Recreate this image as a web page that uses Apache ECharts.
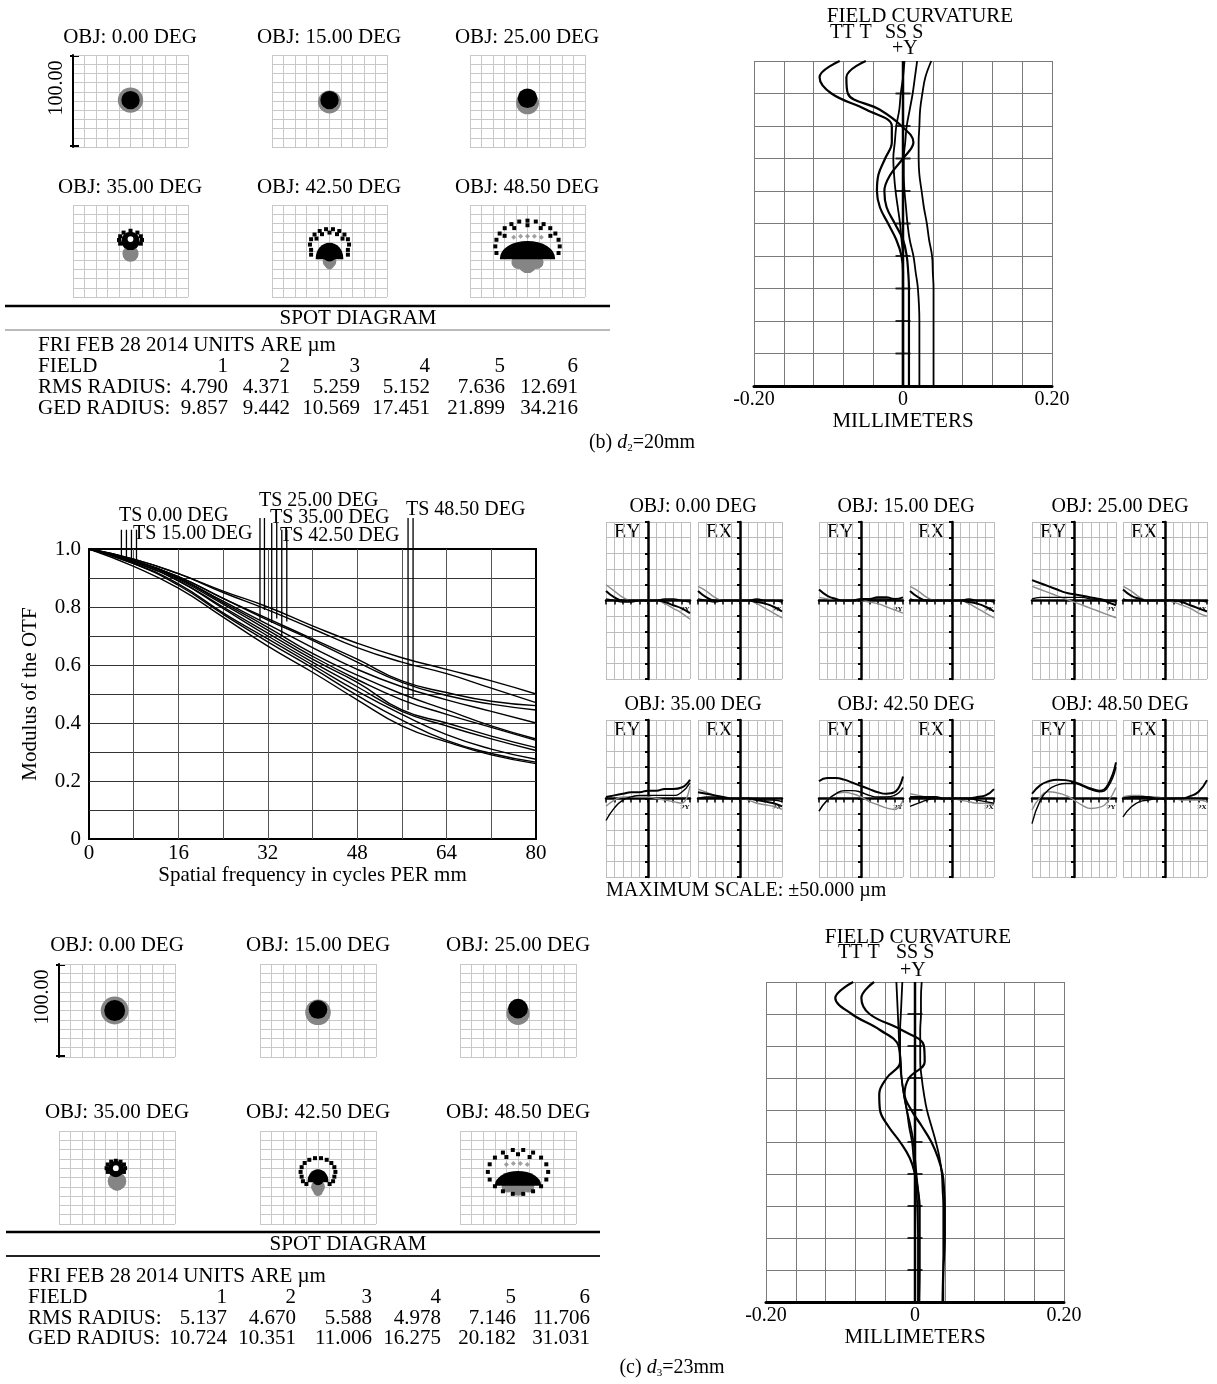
<!DOCTYPE html>
<html>
<head>
<meta charset="utf-8">
<script src="https://cdn.jsdelivr.net/npm/echarts@6/dist/echarts.min.js"></script>
<style>
  html, body { margin: 0; padding: 0; background: #fff; }
  #main { width: 1217px; height: 1384px; }
</style>
</head>
<body>
<div id="main"></div>
<script>
var FONT = 'Liberation Serif';

// ---------- data ----------
var fieldLabels = ['0.00', '15.00', '25.00', '35.00', '42.50', '48.50'];
var fieldNo = [1, 2, 3, 4, 5, 6];
var rmsB = [4.790, 4.371, 5.259, 5.152, 7.636, 12.691];
var gedB = [9.857, 9.442, 10.569, 17.451, 21.899, 34.216];
var rmsC = [5.137, 4.670, 5.588, 4.978, 7.146, 11.706];
var gedC = [10.724, 10.351, 11.006, 16.275, 20.182, 31.031];

// field curvature: relative field (top = 1) vs focus shift in mm
var fieldFrac = [1, .95, .9, .85, .8, .75, .7, .65, .6, .55, .5, .45, .4, .35, .3, .2, .1, 0];
var fcB_TA = [-0.085, -0.112, -0.096, -0.049, -0.015, -0.015, -0.024, -0.033, -0.035, -0.031, -0.020, -0.009, -0.002, 0, 0, 0, 0, 0];
var fcB_TB = [-0.050, -0.076, -0.074, -0.031, -0.002, 0.014, 0.000, -0.017, -0.025, -0.022, -0.011, 0.000, 0.005, 0.007, 0.008, 0.008, 0.008, 0.008];
var fcB_SA = [0.002, 0, -0.003, -0.005, -0.009, -0.011, -0.013, -0.012, -0.010, -0.007, -0.004, -0.002, 0, 0, 0, 0, 0, 0];
var fcB_SB = [0.019, 0.016, 0.013, 0.009, 0.005, 0.003, 0.001, 0.001, 0.002, 0.004, 0.006, 0.009, 0.014, 0.017, 0.020, 0.022, 0.022, 0.022];
var fcB_SC = [0.038, 0.030, 0.026, 0.023, 0.022, 0.021, 0.021, 0.022, 0.025, 0.028, 0.032, 0.035, 0.039, 0.040, 0.041, 0.041, 0.041, 0.041];
var fcC_TA = [-0.083, -0.107, -0.085, -0.047, -0.022, -0.020, -0.038, -0.048, -0.047, -0.036, -0.020, -0.007, 0, 0.004, 0.006, 0.006, 0.006, 0.005];
var fcC_TB = [-0.055, -0.072, -0.061, -0.018, 0.012, 0.013, -0.008, -0.014, -0.005, 0.009, 0.022, 0.031, 0.037, 0.039, 0.040, 0.040, 0.038, 0.037];
var fcC_SA = [-0.025, -0.024, -0.023, -0.022, -0.021, -0.019, -0.018, -0.015, -0.011, -0.008, -0.004, -0.002, 0, 0.002, 0.003, 0.004, 0.004, 0.004];
var fcC_SB = [-0.017, -0.018, -0.019, -0.020, -0.020, -0.020, -0.018, -0.015, -0.011, -0.006, -0.002, 0, 0.002, 0.004, 0.006, 0.006, 0.006, 0.006];
var fcC_SC = [0.009, 0.008, 0.008, 0.007, 0.007, 0.007, 0.009, 0.012, 0.016, 0.022, 0.028, 0.033, 0.036, 0.037, 0.038, 0.038, 0.038, 0.038];
var fcTicks = [0.1, 0.2, 0.3, 0.4, 0.5, 0.6, 0.7, 0.8, 0.9];

// MTF curves
var mtfFreq = [0, 8, 16, 24, 32, 40, 48, 56, 64, 72, 80];
var mtf01 = [1, 0.965, 0.915, 0.855, 0.800, 0.735, 0.675, 0.625, 0.585, 0.545, 0.500];
var mtf02 = [1, 0.965, 0.915, 0.850, 0.790, 0.725, 0.660, 0.610, 0.570, 0.520, 0.470];
var mtf03 = [1, 0.960, 0.905, 0.830, 0.760, 0.690, 0.620, 0.545, 0.505, 0.475, 0.460];
var mtf04 = [1, 0.960, 0.905, 0.830, 0.755, 0.685, 0.610, 0.540, 0.495, 0.465, 0.445];
var mtf05 = [1, 0.960, 0.900, 0.820, 0.740, 0.660, 0.585, 0.525, 0.480, 0.440, 0.400];
var mtf06 = [1, 0.960, 0.900, 0.815, 0.730, 0.640, 0.565, 0.500, 0.445, 0.390, 0.345];
var mtf07 = [1, 0.960, 0.895, 0.810, 0.720, 0.630, 0.550, 0.480, 0.430, 0.385, 0.340];
var mtf08 = [1, 0.955, 0.890, 0.800, 0.710, 0.620, 0.540, 0.445, 0.400, 0.355, 0.315];
var mtf09 = [1, 0.955, 0.890, 0.795, 0.700, 0.610, 0.525, 0.440, 0.390, 0.345, 0.305];
var mtf10 = [1, 0.950, 0.880, 0.780, 0.690, 0.600, 0.510, 0.430, 0.360, 0.310, 0.275];
var mtf11 = [1, 0.950, 0.875, 0.775, 0.680, 0.590, 0.495, 0.410, 0.340, 0.295, 0.265];
var mtf12 = [1, 0.940, 0.865, 0.765, 0.665, 0.575, 0.480, 0.390, 0.335, 0.290, 0.260];
var mtfCurves = [mtf01, mtf02, mtf03, mtf04, mtf05, mtf06, mtf07, mtf08, mtf09, mtf10, mtf11, mtf12];

// TS label marker lines
var tsFreq = [5.8, 6.7, 7.6, 8.5, 30.6, 31.4, 32.7, 33.6, 34.5, 35.4, 57.1, 58.0];
var tsTop = [1.066, 1.066, 1.066, 1.066, 1.107, 1.107, 1.09, 1.09, 1.066, 1.066, 1.107, 1.107];
var tsBottom = [0.975, 0.972, 0.968, 0.962, 0.755, 0.79, 0.745, 0.76, 0.70, 0.75, 0.445, 0.49];
var tsLabels = ['TS 0.00 DEG', 'TS 15.00 DEG', 'TS 25.00 DEG', 'TS 35.00 DEG', 'TS 42.50 DEG', 'TS 48.50 DEG'];

// ray fan: pupil coordinate vs aberration (um), k1/k2 black, g gray
var pupil = [-1, -0.8, -0.6, -0.4, -0.2, 0, 0.2, 0.4, 0.6, 0.8, 1];
var fanEY = [
  { k1: [6, 2, 0, 0, 0, 0, 0, -1, -3, -5, -8], k2: [1, 0, -1, -1, 0, 0, 0, 1, 1, 0, -1], g: [10, 6, 2, 0, 0, 0, 0, -2, -5, -8, -12] },
  { k1: [7, 3, 1, 0, 0, 1, 1, 2, 2, 1, 2], k2: [0, 0, 0, 0, 0, 0, 1, 1, 1, 0, 0], g: [2, 1, 0, 0, 0, 0, -1, -2, -4, -6, -8] },
  { k1: [13, 11, 9, 7, 5, 4, 3, 2, 1, -1, -3], k2: [1, 2, 2, 2, 2, 2, 2, 1, 1, 0, -1], g: [9, 7, 5, 3, 1, -1, -3, -5, -7, -9, -11] },
  { k1: [1, 2, 3, 4, 4, 5, 5, 6, 6, 7, 12], k2: [-14, -6, -1, 1, 2, 2, 2, 2, 2, 4, 10], g: [-5, -1, 1, 1, 1, 1, 0, -1, -2, -3, 8] },
  { k1: [11, 13, 13, 12, 10, 8, 6, 4, 3, 4, 14], k2: [-8, -1, 3, 5, 5, 4, 2, 1, 1, 2, 7], g: [-8, -1, 3, 4, 3, 1, -2, -4, -6, -7, -1] },
  { k1: [3, 8.5, 11, 12, 11.7, 10.6, 8.5, 6.4, 5, 8.5, 23], k2: [-16, -1, 5.7, 8.5, 9.6, 9.6, 7.9, 5.7, 4.3, 7, 20], g: [-7.4, 1, 4.3, 3.6, 2, -1, -4.3, -6.4, -5.7, -2, 7] }
];
var fanEX = [
  { k1: [6, 2, 0, 0, 0, 0, 0, -1, -2, -4, -7], k2: [1, 0, -1, 0, 0, 0, 0, 1, 0, 0, -1], g: [9, 6, 2, 0, 0, 0, 0, -2, -5, -8, -11] },
  { k1: [6, 2, 0, 0, 0, 0, 0, -1, -2, -4, -7], k2: [1, 0, 0, 0, 0, 0, 0, 1, 0, 0, -1], g: [9, 6, 2, 0, 0, 0, 0, -2, -5, -8, -11] },
  { k1: [7, 3, 1, 0, 0, 0, 0, -1, -3, -5, -7], k2: [1, 0, 0, 0, 0, 0, 0, 0, 0, 0, -1], g: [9, 6, 2, 0, 0, 0, -1, -3, -5, -8, -10] },
  { k1: [4, 3, 2, 1, 0, 0, 0, -1, -2, -3, -5], k2: [0, 1, 1, 0, 0, 0, 0, 0, -1, -1, -2], g: [6, 4, 2, 1, 0, 0, -1, -3, -4, -5, -7] },
  { k1: [1, 1, 1, 1, 0, 0, 0, 0, 1, 2, 6], k2: [-5, -3, -1, 0, 0, 0, 0, 0, -1, -2, -3], g: [3, 2, 1, 1, 0, 0, -1, -2, -3, -3, -4] },
  { k1: [0, 1, 1, 1, 0, 0, 0, 0, 1.5, 4.3, 11.7], k2: [-11.7, -5.3, -2, -1, 0, 0, 0, 0, 0, 0, 0], g: [1, 2, 2, 1, 1, 0, 0, -1, -1, -1, -2] }
];

// spot diagrams (um): blobs [x, y, radius], domes [x, y, halfWidth, height], dots [x, y]
var spotB = [
  { gray: [[0, 1, 11]], black: [[0, 1, 8]], dome: [], white: [], dots: [], cross: [] },
  { gray: [[0, -1, 10]], black: [[0, 1, 8]], dome: [], white: [], dots: [], cross: [] },
  { gray: [[0, -2, 10]], black: [[0, 3, 8.5]], dome: [], white: [], dots: [], cross: [] },
  { gray: [[0, -3, 7]], black: [[0, 11, 8]], dome: [], white: [[0, 13, 2.5]],
    dots: [[-10, 12], [-9, 16], [-6, 20], [0, 22], [6, 20], [9, 16], [10, 12], [9, 8], [-9, 8]], cross: [] },
  { gray: [[0, -11, 6], [0, -15, 4]], black: [[0, -4, 6]], dome: [[0, 0, 12, 18]], white: [],
    dots: [[16, 1.2], [17, 7], [16, 12.8], [13, 17.9], [8.5, 21.7], [3, 23.7], [-3, 23.7], [-8.5, 21.7], [-13, 17.9], [-16, 12.8], [-17, 7], [-16, 1.2],
      [11.3, 13.5], [6.5, 18.3], [0, 20], [-6.5, 18.3], [-11.3, 13.5], [16, -4], [-16, -4]], cross: [] },
  { gray: [[0, -14, 8], [-8, -12, 6], [8, -12, 6]], black: [], dome: [[0, 1, 24, 20]], white: [],
    dots: [[27, -2.2], [28, 5], [27, 12.2], [24.2, 19], [19.8, 24.8], [14, 29.2], [7.2, 32], [0, 33], [-7.2, 32], [-14, 29.2], [-19.8, 24.8], [-24.2, 19], [-27, 12.2], [-28, 5], [-27, -2.2],
      [19.9, 16.5], [11.5, 24.9], [0, 28], [-11.5, 24.9], [-19.9, 16.5]],
    cross: [[-12, 15], [-6, 16], [0, 16], [6, 16], [12, 15]] }
];
var spotC = [
  { gray: [[-2, 0, 12]], black: [[-2, 0, 9]], dome: [], white: [], dots: [], cross: [] },
  { gray: [[0, -2, 11]], black: [[0, 1, 8]], dome: [], white: [], dots: [], cross: [] },
  { gray: [[0, -3, 10]], black: [[0, 2, 8.5]], dome: [], white: [], dots: [], cross: [] },
  { gray: [[0, -4, 8], [0, -8, 5]], black: [[-1, 9, 7]], dome: [], white: [[-1, 10, 2.5]],
    dots: [[-9, 10], [-8, 14], [-5, 17], [-1, 18], [3, 17], [6, 14], [7, 10], [6, 6], [-8, 6]], cross: [] },
  { gray: [[0, -10, 6], [0, -15, 4]], black: [[0, -2, 5]], dome: [[0, 2, 9, 14]], white: [],
    dots: [[14.1, 0.9], [15, 6], [14.1, 11.1], [11.5, 15.6], [7.5, 19], [2.6, 20.8], [-2.6, 20.8], [-7.5, 19], [-11.5, 15.6], [-14.1, 11.1], [-15, 6], [-14.1, 0.9],
      [13, -4], [-13, -4], [10, -7], [-10, -7]], cross: [] },
  { gray: [[0, -11, 7], [-9, -10, 5], [9, -10, 5]], black: [], dome: [[0, -1, 20, 16]], white: [],
    dots: [[26, 6], [24.4, 14.2], [19.9, 21.4], [13, 26.8], [4.5, 29.6], [-4.5, 29.6], [-13, 26.8], [-19.9, 21.4], [-24.4, 14.2], [-26, 6],
      [-24.4, -2.2], [-19.9, -9.4], [-13, -14.8], [-4.5, -17.6], [4.5, -17.6], [13, -14.8], [19.9, -9.4], [24.4, -2.2],
      [0, 25], [10, 22], [-10, 22]],
    cross: [[-10, 14], [-4, 15], [2, 15], [8, 14]] }
];

// ---------- builders ----------
var grids = [], xAxes = [], yAxes = [], series = [], graphics = [];
var DOME = 'path://M0,10 A10,10 0 0 1 20,10 L20,10.5 L0,10.5 Z';

function addGrid(g, xa, ya) {
  grids.push(g);
  var i = grids.length - 1;
  xa.gridIndex = i; ya.gridIndex = i;
  xAxes.push(xa); yAxes.push(ya);
  return i;
}

function txt(s, x, y, size, align, extra, rot) {
  graphics.push({
    type: 'text', x: x, y: y, rotation: rot || 0, silent: true,
    style: Object.assign({
      text: s, fill: '#000', fontSize: size, fontFamily: FONT,
      textAlign: align || 'left', align: align || 'left',
      textVerticalAlign: 'middle', verticalAlign: 'middle'
    }, extra || {})
  });
}

function seg(x1, y1, x2, y2, w, c) {
  graphics.push({ type: 'line', silent: true, shape: { x1: x1, y1: y1, x2: x2, y2: y2 }, style: { stroke: c || '#000', lineWidth: w } });
}

function hiddenAxis(min, max, interval, split) {
  return {
    type: 'value', min: min, max: max, interval: interval,
    axisLine: { show: false }, axisTick: { show: false }, axisLabel: { show: false },
    splitLine: split ? { show: true, lineStyle: { color: split, width: 1 } } : { show: false }
  };
}

function spotPanel(left, top, w, h, d, scaleBar) {
  var ya = hiddenAxis(-50, 50, 10, '#c8c8c8');
  if (scaleBar) {
    ya.axisLine = { show: true, onZero: false, lineStyle: { color: '#000', width: 2 } };
    seg(left - 3, top + 1, left + 6, top + 1, 2);
    seg(left - 3, top + h - 1, left + 6, top + h - 1, 2);
    txt('100.00', left - 16, top + 33, 20, 'center', null, Math.PI / 2);
  }
  var gi = addGrid({ left: left, top: top, width: w, height: h }, hiddenAxis(-50, 50, 10, '#c8c8c8'), ya);
  var k = w / 100, kv = h / 100;
  var size = function (v) { return v[2] * 2 * k; };
  series.push({ type: 'scatter', xAxisIndex: gi, yAxisIndex: gi, data: d.gray, symbolSize: size, itemStyle: { color: '#858585', opacity: 1 }, silent: true, z: 3 });
  series.push({ type: 'scatter', xAxisIndex: gi, yAxisIndex: gi, data: d.cross, symbol: 'diamond', symbolSize: 5, itemStyle: { color: '#8a8a8a' }, silent: true, z: 3 });
  series.push({ type: 'scatter', xAxisIndex: gi, yAxisIndex: gi, data: d.black, symbolSize: size, itemStyle: { color: '#000', opacity: 1 }, silent: true, z: 4 });
  series.push({
    type: 'scatter', xAxisIndex: gi, yAxisIndex: gi, data: d.dome, symbol: DOME,
    symbolSize: function (v) { return [v[2] * 2 * k, v[3] * kv]; }, symbolKeepAspect: false,
    itemStyle: { color: '#000', opacity: 1 }, silent: true, z: 4
  });
  series.push({ type: 'scatter', xAxisIndex: gi, yAxisIndex: gi, data: d.white, symbolSize: size, itemStyle: { color: '#fff', opacity: 1 }, silent: true, z: 5 });
  series.push({ type: 'scatter', xAxisIndex: gi, yAxisIndex: gi, data: d.dots, symbol: 'rect', symbolSize: 4, itemStyle: { color: '#000', opacity: 1 }, silent: true, z: 5 });
}

function fcLabel(v) {
  if (Math.abs(v + 0.2) < 1e-6) return '-0.20';
  if (Math.abs(v) < 1e-6) return '0';
  if (Math.abs(v - 0.2) < 1e-6) return '0.20';
  return '';
}

function fcPanel(left, top, w, h, curves) {
  var gi = addGrid({ left: left, top: top, width: w, height: h },
    {
      type: 'value', min: -0.2, max: 0.2, interval: 0.04,
      axisLine: { show: true, onZero: false, lineStyle: { color: '#000', width: 3 } },
      axisTick: { show: false },
      axisLabel: { show: true, formatter: fcLabel, fontFamily: FONT, fontSize: 20, color: '#000', margin: 4, showMinLabel: true, showMaxLabel: true },
      splitLine: { show: true, lineStyle: { color: '#7a7a7a', width: 1 } },
      name: 'MILLIMETERS', nameLocation: 'middle', nameGap: 21,
      nameTextStyle: { fontFamily: FONT, fontSize: 21, color: '#000' }
    },
    hiddenAxis(0, 1, 0.1, '#7a7a7a'));
  curves.forEach(function (c, ci) {
    series.push({
      type: 'line', xAxisIndex: gi, yAxisIndex: gi, smooth: 0.4, symbol: 'none', silent: true,
      data: fieldFrac.map(function (f, i) { return [c[i], f]; }),
      lineStyle: { color: '#000', width: ci < 2 ? 2.2 : 1.8 }, z: 4
    });
  });
  series.push({ type: 'line', xAxisIndex: gi, yAxisIndex: gi, symbol: 'none', silent: true, data: [[0, 0], [0, 1]], lineStyle: { color: '#000', width: 2.5 }, z: 5 });
  series.push({
    type: 'scatter', xAxisIndex: gi, yAxisIndex: gi, silent: true, symbol: 'rect', symbolSize: [15, 2],
    data: fcTicks.map(function (t) { return [0, t]; }), itemStyle: { color: '#000' }, z: 5
  });
}

function fanPanel(left, top, w, h, d, tag) {
  var gi = addGrid({ left: left, top: top, width: w, height: h },
    {
      type: 'value', min: -1, max: 1, interval: 0.2,
      axisLine: { show: true, onZero: true, lineStyle: { color: '#000', width: 2.5 } },
      axisTick: { show: true, length: 4, lineStyle: { color: '#000', width: 1.5 } },
      axisLabel: { show: false },
      splitLine: { show: true, lineStyle: { color: '#bdbdbd', width: 1 } }
    },
    {
      type: 'value', min: -50, max: 50, interval: 10,
      axisLine: { show: true, onZero: true, lineStyle: { color: '#000', width: 2.5 } },
      axisTick: { show: true, length: 3, lineStyle: { color: '#000', width: 2 } },
      axisLabel: { show: false },
      splitLine: { show: true, lineStyle: { color: '#bdbdbd', width: 1 } }
    });
  var mk = function (arr, color, width, z) {
    series.push({
      type: 'line', xAxisIndex: gi, yAxisIndex: gi, smooth: true, symbol: 'none', silent: true,
      data: pupil.map(function (p, i) { return [p, arr[i]]; }),
      lineStyle: { color: color, width: width }, z: z
    });
  };
  mk(d.g, '#8c8c8c', 1.4, 3);
  mk(d.k2, '#000', 1.4, 4);
  mk(d.k1, '#000', 2, 5);
  txt(tag, left + 8, top + 11, 20);
  txt(tag === 'EY' ? 'PY' : 'PX', left + w - 5, top + h / 2 + 9, 7, 'center', { fontWeight: 'bold' });
}

// ---------- (b) spot diagrams ----------
var spotLeftB = [73, 272, 470], spotTopB = [55, 205];
spotB.forEach(function (d, i) {
  var l = spotLeftB[i % 3], t = spotTopB[Math.floor(i / 3)];
  spotPanel(l, t, 115, 92, d, i === 0);
  txt('OBJ: ' + fieldLabels[i] + ' DEG', l + 57, t - 18, 21, 'center');
});
seg(5, 306, 610, 306, 2.5, '#000');
txt('SPOT DIAGRAM', 358, 318, 21, 'center');
seg(5, 330, 610, 330, 1, '#777');
txt('FRI FEB 28 2014 UNITS ARE \u00b5m', 38, 345, 21);
txt('FIELD', 38, 366, 21);
txt('RMS RADIUS:', 38, 387, 21);
txt('GED RADIUS:', 38, 408, 21);
var colXB = [228, 290, 360, 430, 505, 578];
fieldNo.forEach(function (n, i) {
  txt(String(n), colXB[i], 366, 21, 'right');
  txt(rmsB[i].toFixed(3), colXB[i], 387, 21, 'right');
  txt(gedB[i].toFixed(3), colXB[i], 408, 21, 'right');
});

// ---------- (b) field curvature ----------
fcPanel(754, 61, 298, 325, [fcB_TA, fcB_TB, fcB_SA, fcB_SB, fcB_SC]);
txt('FIELD CURVATURE', 920, 16, 21, 'center');
txt('TT T', 830, 33, 20);
txt('SS S', 885, 33, 20);
txt('+Y', 892, 49, 20);

graphics.push({
  type: 'text', x: 642, y: 443, silent: true,
  style: {
    text: '(b) {i|d}{s|2}=20mm', fill: '#000', fontSize: 20, fontFamily: FONT,
    textAlign: 'center', align: 'center', textVerticalAlign: 'middle', verticalAlign: 'middle',
    rich: { i: { fontStyle: 'italic', fontSize: 20, fontFamily: FONT }, s: { fontSize: 11, fontFamily: FONT, padding: [10, 0, 0, 0] } }
  }
});

// ---------- MTF ----------
var mtfGrid = addGrid({ left: 89, top: 549, width: 447, height: 290, show: true, borderColor: '#000', borderWidth: 2 },
  {
    type: 'value', min: 0, max: 80, interval: 8,
    axisLine: { show: false }, axisTick: { show: false },
    axisLabel: { formatter: function (v) { return v % 16 === 0 ? String(v) : ''; }, fontFamily: FONT, fontSize: 21, color: '#000', margin: 4, showMinLabel: true, showMaxLabel: true },
    splitLine: { show: true, showMinLine: false, showMaxLine: false, lineStyle: { color: '#555', width: 1 } },
    name: 'Spatial frequency in cycles PER mm', nameLocation: 'middle', nameGap: 25,
    nameTextStyle: { fontFamily: FONT, fontSize: 21, color: '#000' }
  },
  {
    type: 'value', min: 0, max: 1, interval: 0.1,
    axisLine: { show: false }, axisTick: { show: false },
    axisLabel: {
      formatter: function (v) { var t = Math.round(v * 10); return t === 0 ? '0' : (t % 2 === 0 ? (t / 10).toFixed(1) : ''); },
      fontFamily: FONT, fontSize: 21, color: '#000', margin: 8, showMinLabel: true, showMaxLabel: true
    },
    splitLine: { show: true, showMinLine: false, showMaxLine: false, lineStyle: { color: '#333', width: 1 } },
    name: 'Modulus of the OTF', nameLocation: 'middle', nameGap: 48, nameRotate: 90,
    nameTextStyle: { fontFamily: FONT, fontSize: 21, color: '#000' }
  });
mtfCurves.forEach(function (c) {
  series.push({
    type: 'line', xAxisIndex: mtfGrid, yAxisIndex: mtfGrid, smooth: true, symbol: 'none', silent: true,
    data: mtfFreq.map(function (f, i) { return [f, c[i]]; }),
    lineStyle: { color: '#000', width: 1.4 }, z: 4
  });
});
var tsGrid = addGrid({ left: 89, top: 491, width: 447, height: 348 }, hiddenAxis(0, 80, 8, null), hiddenAxis(0, 1.2, 0.2, null));
tsFreq.forEach(function (f, i) {
  series.push({
    type: 'line', xAxisIndex: tsGrid, yAxisIndex: tsGrid, symbol: 'none', silent: true,
    data: [[f, tsBottom[i]], [f, tsTop[i]]], lineStyle: { color: '#000', width: 1.3 }, z: 6
  });
});
var tsLabelPos = [[119, 516], [133, 534], [259, 501], [270, 518], [280, 536], [406, 510]];
tsLabels.forEach(function (s, i) { txt(s, tsLabelPos[i][0], tsLabelPos[i][1], 20); });

// ---------- ray fans ----------
var fanLeftEY = [606, 819, 1032], fanLeftEX = [698, 910, 1123], fanTop = [522, 720], fanTitleX = [693, 906, 1120];
fanEY.forEach(function (d, i) {
  var c = i % 3, r = Math.floor(i / 3);
  fanPanel(fanLeftEY[c], fanTop[r], 84, 157, d, 'EY');
  fanPanel(fanLeftEX[c], fanTop[r], 84, 157, fanEX[i], 'EX');
  txt('OBJ: ' + fieldLabels[i] + ' DEG', fanTitleX[c], fanTop[r] - 15, 20, 'center');
});
txt('MAXIMUM SCALE: \u00b150.000 \u00b5m', 606, 891, 20);

// ---------- (c) spot diagrams ----------
var spotLeftC = [59, 260, 460], spotTopC = [964, 1131];
spotC.forEach(function (d, i) {
  var l = spotLeftC[i % 3], t = spotTopC[Math.floor(i / 3)];
  spotPanel(l, t, 116, 93, d, i === 0);
  txt('OBJ: ' + fieldLabels[i] + ' DEG', l + 58, t - 19, 21, 'center');
});
seg(6, 1232, 600, 1232, 2.5, '#000');
txt('SPOT DIAGRAM', 348, 1244, 21, 'center');
seg(6, 1256, 600, 1256, 2, '#222');
txt('FRI FEB 28 2014 UNITS ARE \u00b5m', 28, 1276, 21);
txt('FIELD', 28, 1297, 21);
txt('RMS RADIUS:', 28, 1318, 21);
txt('GED RADIUS:', 28, 1338, 21);
var colXC = [227, 296, 372, 441, 516, 590];
fieldNo.forEach(function (n, i) {
  txt(String(n), colXC[i], 1297, 21, 'right');
  txt(rmsC[i].toFixed(3), colXC[i], 1318, 21, 'right');
  txt(gedC[i].toFixed(3), colXC[i], 1338, 21, 'right');
});

// ---------- (c) field curvature ----------
fcPanel(766, 982, 298, 320, [fcC_TA, fcC_TB, fcC_SA, fcC_SB, fcC_SC]);
txt('FIELD CURVATURE', 918, 937, 21, 'center');
txt('TT T', 838, 953, 20);
txt('SS S', 896, 953, 20);
txt('+Y', 900, 971, 20);

graphics.push({
  type: 'text', x: 672, y: 1368, silent: true,
  style: {
    text: '(c) {i|d}{s|3}=23mm', fill: '#000', fontSize: 20, fontFamily: FONT,
    textAlign: 'center', align: 'center', textVerticalAlign: 'middle', verticalAlign: 'middle',
    rich: { i: { fontStyle: 'italic', fontSize: 20, fontFamily: FONT }, s: { fontSize: 11, fontFamily: FONT, padding: [10, 0, 0, 0] } }
  }
});

var chart = echarts.init(document.getElementById('main'), null, { renderer: 'canvas' });
chart.setOption({
  backgroundColor: '#fff',
  animation: false,
  textStyle: { fontFamily: FONT },
  grid: grids,
  xAxis: xAxes,
  yAxis: yAxes,
  series: series,
  graphic: { elements: graphics }
});
</script>
</body>
</html>
